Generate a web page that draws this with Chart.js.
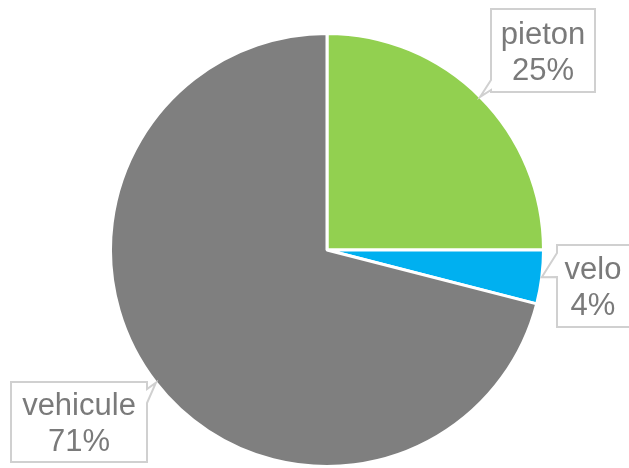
<!DOCTYPE html>
<html>
<head>
<meta charset="utf-8">
<script src="https://cdn.jsdelivr.net/npm/chart.js@4/dist/chart.umd.min.js"></script>
<style>
  html, body { margin: 0; padding: 0; background: #ffffff; }
  #wrap { width: 629px; height: 468px; }
</style>
</head>
<body>
<div id="wrap"><canvas id="pieChart" width="629" height="468"></canvas></div>
<script>
// data
const categories = ["pieton", "velo", "vehicule"];
const shares = [25, 4, 71];

// colours per slice
const sliceColors = ["#92d050", "#00b0f0", "#7f7f7f"];

// callout boxes (layout only): box edges, which side the pointer leaves from,
// the two points on that side where the pointer starts, and text centre
const callouts = [
  { l: 491, t: 9,   r: 595, b: 92,  side: "left",  w1: 80,  w2: 90,  tx: 543 },
  { l: 557, t: 245, r: 634, b: 327, side: "left",  w1: 253, w2: 277, tx: 593 },
  { l: 11,  t: 382, r: 147, b: 462, side: "right", w1: 389, w2: 403, tx: 79 }
];

const calloutPlugin = {
  id: "callouts",
  afterDatasetsDraw(chart) {
    const ctx = chart.ctx;
    const meta = chart.getDatasetMeta(0);
    meta.data.forEach((arc, i) => {
      const c = callouts[i];
      if (!c) return;
      const p = arc.getProps(["x", "y", "startAngle", "endAngle", "outerRadius"], true);
      const mid = (p.startAngle + p.endAngle) / 2;
      const tipX = p.x + p.outerRadius * Math.cos(mid);
      const tipY = p.y + p.outerRadius * Math.sin(mid);

      ctx.save();
      ctx.beginPath();
      if (c.side === "left") {
        ctx.moveTo(c.l, c.t);
        ctx.lineTo(c.r, c.t);
        ctx.lineTo(c.r, c.b);
        ctx.lineTo(c.l, c.b);
        ctx.lineTo(c.l, c.w2);
        ctx.lineTo(tipX, tipY);
        ctx.lineTo(c.l, c.w1);
      } else {
        ctx.moveTo(c.l, c.t);
        ctx.lineTo(c.r, c.t);
        ctx.lineTo(c.r, c.w1);
        ctx.lineTo(tipX, tipY);
        ctx.lineTo(c.r, c.w2);
        ctx.lineTo(c.r, c.b);
        ctx.lineTo(c.l, c.b);
      }
      ctx.closePath();
      ctx.fillStyle = "#ffffff";
      ctx.fill();
      ctx.lineWidth = 2;
      ctx.strokeStyle = "#d0d0d0";
      ctx.stroke();

      const cy = (c.t + c.b) / 2 + 11;
      ctx.fillStyle = "#7a7a7a";
      ctx.font = "31px 'Liberation Sans', Arial, sans-serif";
      ctx.textAlign = "center";
      ctx.textBaseline = "alphabetic";
      ctx.fillText(chart.data.labels[i], c.tx, cy - 18);
      ctx.fillText(chart.data.datasets[0].data[i] + "%", c.tx, cy + 18);
      ctx.restore();
    });
  }
};

new Chart(document.getElementById("pieChart"), {
  type: "pie",
  data: {
    labels: categories,
    datasets: [{
      data: shares,
      backgroundColor: sliceColors,
      borderColor: "#ffffff",
      borderWidth: 3
    }]
  },
  options: {
    responsive: false,
    animation: false,
    events: [],
    layout: { padding: { top: 32, bottom: 0, left: 108, right: 83 } },
    plugins: {
      legend: { display: false },
      tooltip: { enabled: false }
    }
  },
  plugins: [calloutPlugin]
});
</script>
</body>
</html>
